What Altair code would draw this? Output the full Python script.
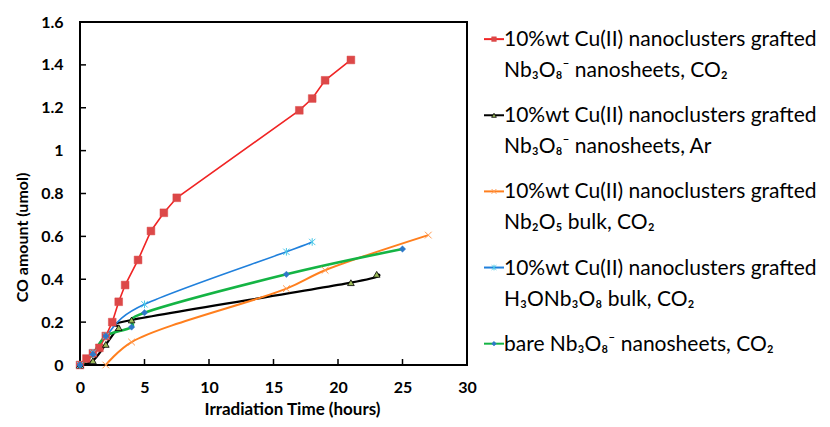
import altair as alt
import pandas as pd

# ---------------- data ----------------
names = [
    "cu_ns_co2", "cu_ns_ar", "cu_nb2o5_co2", "cu_h3o_co2", "bare_ns_co2",
]
labels = [
    "10%wt Cu(II) nanoclusters grafted|Nb₃O₈⁻ nanosheets, CO₂",
    "10%wt Cu(II) nanoclusters grafted|Nb₃O₈⁻ nanosheets, Ar",
    "10%wt Cu(II) nanoclusters grafted|Nb₂O₅ bulk, CO₂",
    "10%wt Cu(II) nanoclusters grafted|H₃ONb₃O₈ bulk, CO₂",
    "bare Nb₃O₈⁻ nanosheets, CO₂",
]

red_x = [0, 0.5, 1, 1.5, 2, 2.5, 3, 3.5, 4.5, 5.5, 6.5, 7.5, 17, 18, 19, 21]
red_y = [0, 0.03, 0.055, 0.08, 0.135, 0.2, 0.295, 0.373, 0.49, 0.625, 0.71, 0.78, 1.188, 1.243, 1.328, 1.423]

black_x = [0, 1, 2, 3, 4, 21, 23]
black_y = [0, 0.02, 0.096, 0.174, 0.21, 0.384, 0.423]

orange_x = [2, 4, 16, 19, 27]
orange_y = [0, 0.107, 0.356, 0.442, 0.606]

blue_x = [0, 1, 2, 5, 16, 18]
blue_y = [0, 0.057, 0.135, 0.283, 0.528, 0.574]

green_x = [0, 1, 2, 4, 5, 16, 25]
green_y = [0, 0.05, 0.135, 0.177, 0.244, 0.423, 0.541]

x_ticks = [0, 5, 10, 15, 20, 25, 30]
y_ticks = [0, 0.2, 0.4, 0.6, 0.8, 1.0, 1.2, 1.4, 1.6]
x_inner_ticks = [5, 10, 15, 20, 25]
y_inner_ticks = [0.2, 0.4, 0.6, 0.8, 1.0, 1.2, 1.4]

# ---------------- styles ----------------
X_SHAPE = "M-1,-1L1,1M-1,1L1,-1"
STAR_SHAPE = "M-1,-1L1,1M-1,1L1,-1M0,-1.2L0,1.2"

styles = [
    dict(x=red_x, y=red_y, line="#F02424", width=1.6, interp="linear",
         shape="square", filled=True, fill="#DC4848", stroke="#DC4848", size=60, sw=0.5),
    dict(x=black_x, y=black_y, line="#000000", width=2.2, interp="cardinal",
         shape="triangle-up", filled=True, fill="#9BBB59", stroke="#000000", size=45, sw=0.8),
    dict(x=orange_x, y=orange_y, line="#FF7F1E", width=2.0, interp="catmull-rom",
         shape=X_SHAPE, filled=False, fill="#FF7F1E", stroke="#FF9A50", size=45, sw=1.0),
    dict(x=blue_x, y=blue_y, line="#2080DC", width=1.6, interp="cardinal",
         shape=STAR_SHAPE, filled=False, fill="#4BC8E8", stroke="#4BC8E8", size=40, sw=1.0),
    dict(x=green_x, y=green_y, line="#14B444", width=2.6, interp="cardinal",
         shape="diamond", filled=True, fill="#2E78C8", stroke="#2E78C8", size=40, sw=0.5),
]

FONT = "Lato"
W, H = 387, 343

X = alt.X("t:Q", scale=alt.Scale(domain=[0, 30], nice=False),
          axis=alt.Axis(values=x_ticks, ticks=False, domain=False, grid=False,
                        labelFlush=False, labelFont=FONT, labelFontWeight="bold",
                        labelFontSize=16, labelColor="black", labelPadding=14,
                        title="Irradiation Time (hours)", titleFont=FONT,
                        titleFontWeight="bold", titleFontSize=17, titleColor="black",
                        titleX=212, titleY=44, titleAlign="center", titleBaseline="middle",
                        titleAnchor="start"))
Y = alt.Y("co:Q", scale=alt.Scale(domain=[0, 1.6], nice=False),
          axis=alt.Axis(values=y_ticks, format=".1~f", ticks=False, domain=False, grid=False,
                        labelFlush=False, labelFont=FONT, labelFontWeight="bold",
                        labelFontSize=16, labelColor="black", labelPadding=17,
                        title="CO amount (umol)", titleFont=FONT,
                        titleFontWeight="bold", titleFontSize=16, titleColor="black",
                        titleX=-58, titleY=215, titleAlign="center", titleBaseline="middle",
                        titleAngle=270))

layers = []
for s in styles:
    df = pd.DataFrame({"t": s["x"], "co": s["y"]})
    layers.append(alt.Chart(df).mark_line(color=s["line"], strokeWidth=s["width"],
                                          interpolate=s["interp"]).encode(x=X, y=Y))
for s in styles:
    df = pd.DataFrame({"t": s["x"], "co": s["y"]})
    layers.append(alt.Chart(df).mark_point(shape=s["shape"], filled=s["filled"],
                                           fill=s["fill"], stroke=s["stroke"], size=s["size"],
                                           strokeWidth=s["sw"], opacity=1)
                  .encode(x=X, y=Y))

xt = alt.Chart(pd.DataFrame({"t": x_inner_ticks})).mark_rule(color="black", strokeWidth=1.5).encode(
    x="t:Q", y=alt.value(H), y2=alt.value(H - 6))
yt = alt.Chart(pd.DataFrame({"co": y_inner_ticks})).mark_rule(color="black", strokeWidth=1.5).encode(
    y="co:Q", x=alt.value(0), x2=alt.value(6))
layers += [xt, yt]

main = alt.layer(*layers).properties(width=W, height=H)

# ---------------- legend panel ----------------
leg_df = pd.DataFrame({"order": list(range(len(names))), "label": labels, "series": names})
LY = alt.Y("order:Q", scale=alt.Scale(domain=[-0.225, 4.28], reverse=True, nice=False), axis=None)
leg_layers = []
for i, s in enumerate(styles):
    one = alt.Chart(leg_df.iloc[[i]])
    leg_layers.append(one.mark_rule(color=s["line"], strokeWidth=2).encode(
        y=LY, x=alt.value(3), x2=alt.value(23)))
    leg_layers.append(one.mark_point(shape=s["shape"], filled=s["filled"], fill=s["fill"],
                                     stroke=s["stroke"], size=22, strokeWidth=s["sw"], opacity=1)
                      .encode(y=LY, x=alt.value(13)))
leg_layers.append(alt.Chart(leg_df).mark_text(align="left", baseline="alphabetic", lineBreak="|",
                                               lineHeight=31, dx=23, dy=7, font=FONT, fontSize=21,
                                               color="black")
                  .encode(y=LY, x=alt.value(0), text="label:N"))
legend = alt.layer(*leg_layers).properties(width=300, height=H,
                                            view=alt.ViewBackground(stroke="transparent"))

chart = alt.hconcat(main, legend, spacing=2).properties(
    padding={"left": 5, "top": 5, "right": 0, "bottom": 0}
).configure_view(stroke="black", strokeWidth=2)

chart.save("out.html", embed_options={"renderer": "svg", "actions": False})
